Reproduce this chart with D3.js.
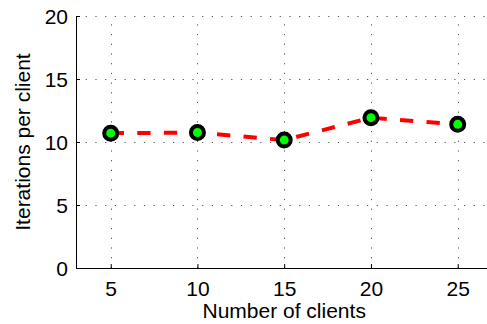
<!DOCTYPE html>
<html>
<head>
<meta charset="utf-8">
<script src="https://cdn.jsdelivr.net/npm/d3@7/dist/d3.min.js"></script>
<style>
  html, body { margin: 0; padding: 0; background: #fff; }
  svg { display: block; font-family: "Liberation Sans", Arial, Helvetica, sans-serif; }
</style>
</head>
<body>
<svg id="chart" width="487" height="324"></svg>
<script>
// Iterations needed per client as the number of clients grows
const clients = [5, 10, 15, 20, 25];
const iterations = [10.7, 10.75, 10.15, 11.93, 11.4];
const xTicks = [5, 10, 15, 20, 25];
const yTicks = [0, 5, 10, 15, 20];

const W = 487, H = 324;
const plotLeft = 76, plotTop = 16, plotBottom = 268;

const svg = d3.select("#chart");

const x = d3.scaleLinear().domain([3, 27]).range([plotLeft, plotLeft + 24 * 17.35]);
const y = d3.scaleLinear().domain([0, 20]).range([plotBottom, plotTop]);

// dotted grid
const grid = svg.append("g").attr("stroke", "#555").attr("stroke-width", 1)
  .attr("stroke-dasharray", "1.2,8.5");
grid.selectAll("line.h").data(yTicks.filter(d => d > 0)).join("line")
  .attr("class", "h")
  .attr("x1", plotLeft).attr("x2", W)
  .attr("y1", d => Math.round(y(d)) + 0.5).attr("y2", d => Math.round(y(d)) + 0.5);
grid.selectAll("line.v").data(xTicks).join("line")
  .attr("class", "v")
  .attr("x1", d => Math.round(x(d)) + 0.5).attr("x2", d => Math.round(x(d)) + 0.5)
  .attr("y1", plotBottom).attr("y2", plotTop);

// axes with inward ticks
const xAxis = d3.axisBottom(x).tickValues(xTicks).tickSize(-4).tickPadding(13)
  .tickFormat(d3.format("d"));
const yAxis = d3.axisLeft(y).tickValues(yTicks).tickSize(-4).tickPadding(8)
  .tickFormat(d3.format("d"));

const gx = svg.append("g").attr("transform", `translate(0,${plotBottom})`).call(xAxis);
gx.select(".domain").attr("d", `M${plotLeft},0.5H${W + 10}`).attr("stroke", "#000");
const gy = svg.append("g").attr("transform", `translate(${plotLeft},0)`).call(yAxis);
gy.select(".domain").attr("d", `M0.5,${plotTop}V${plotBottom}`).attr("stroke", "#000");

svg.selectAll(".tick text").attr("font-size", 21).attr("fill", "#000")
  .attr("font-family", "'Liberation Sans', Arial, sans-serif");
svg.selectAll(".tick line").attr("stroke", "#000");
gy.selectAll(".tick text").attr("dy", "0.36em");

// axis titles
svg.append("text")
  .attr("x", x(15))
  .attr("y", 318)
  .attr("text-anchor", "middle")
  .attr("font-size", 21)
  .text("Number of clients");

svg.append("text")
  .attr("transform", `translate(30,${(plotTop + plotBottom) / 2}) rotate(-90)`)
  .attr("text-anchor", "middle")
  .attr("font-size", 21)
  .text("Iterations per client");

// dashed series line
const line = d3.line().x((d, i) => x(clients[i])).y(d => y(d));
svg.append("path")
  .datum(iterations)
  .attr("d", line)
  .attr("fill", "none")
  .attr("stroke", "#ff0000")
  .attr("stroke-width", 4)
  .attr("stroke-dasharray", "13.3,13.3");

// markers
svg.selectAll("circle.pt").data(iterations).join("circle")
  .attr("class", "pt")
  .attr("cx", (d, i) => x(clients[i]))
  .attr("cy", d => y(d))
  .attr("r", 6.5)
  .attr("fill", "#00ff00")
  .attr("stroke", "#000")
  .attr("stroke-width", 4);
</script>
</body>
</html>
